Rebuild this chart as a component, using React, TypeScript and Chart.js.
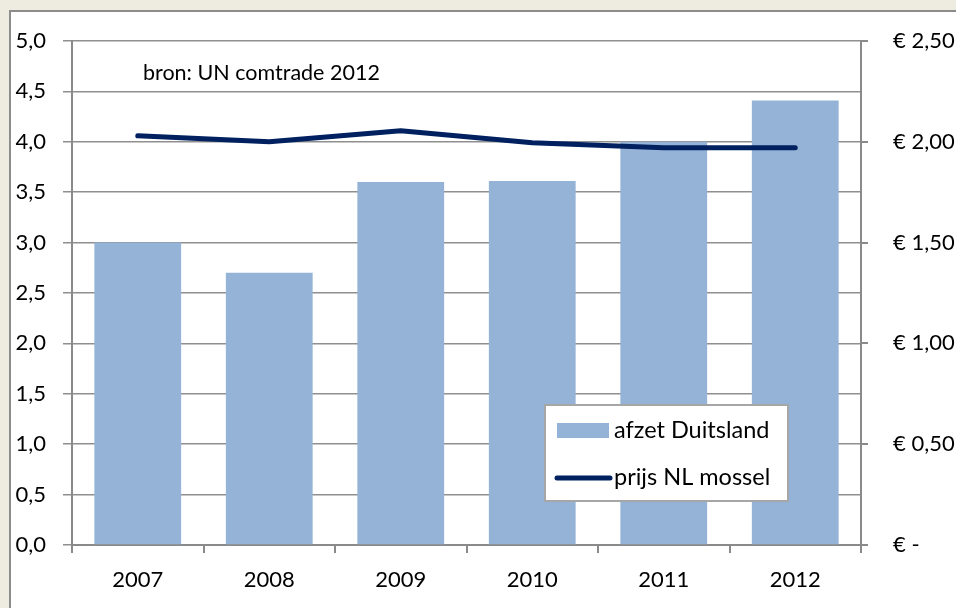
import React, { useEffect, useRef } from "react";
import { Chart, registerables } from "chart.js";

Chart.register(...registerables);

const years = ["2007", "2008", "2009", "2010", "2011", "2012"];
const afzetDuitsland = [3.0, 2.7, 3.6, 3.61, 4.0, 4.41];
const prijsNLMossel = [2.03, 2.0, 2.055, 1.995, 1.97, 1.97];
const leftTickLabels = ["0,0", "0,5", "1,0", "1,5", "2,0", "2,5", "3,0", "3,5", "4,0", "4,5", "5,0"];
const rightTickLabels = ["€ -", "€ 0,50", "€ 1,00", "€ 1,50", "€ 2,00", "€ 2,50"];
const sourceText = "bron: UN comtrade 2012";
const legendLabels = ["afzet Duitsland", "prijs NL mossel"];

const BAR_COLOR = "#95B3D7";
const LINE_COLOR = "#002060";
const AXIS_COLOR = "#8a8a8a";
const FONT = "Lato, 'Open Sans', sans-serif";

const overlayPlugin = {
  id: "overlay",
  afterDraw(chart: any) {
    const ctx = chart.ctx as CanvasRenderingContext2D;
    const a = chart.chartArea;
    ctx.save();
    // source text
    ctx.fillStyle = "#000";
    ctx.font = `21.5px ${FONT}`;
    ctx.textBaseline = "alphabetic";
    ctx.textAlign = "left";
    ctx.fillText(sourceText, a.left + 71, a.top + 39);

    // legend
    const lx = a.left + 473;
    const ly = a.top + 364;
    const lw = 243;
    const lh = 96;
    ctx.fillStyle = "#fff";
    ctx.fillRect(lx, ly, lw, lh);
    ctx.strokeStyle = "#a6a6a6";
    ctx.lineWidth = 2;
    ctx.strokeRect(lx, ly, lw, lh);

    ctx.fillStyle = BAR_COLOR;
    ctx.fillRect(lx + 12, ly + 18, 52, 15);

    ctx.strokeStyle = LINE_COLOR;
    ctx.lineWidth = 5;
    ctx.lineCap = "round";
    ctx.beginPath();
    ctx.moveTo(lx + 12, ly + 73);
    ctx.lineTo(lx + 65, ly + 73);
    ctx.stroke();

    ctx.fillStyle = "#000";
    ctx.font = `23.5px ${FONT}`;
    ctx.fillText(legendLabels[0], lx + 69, ly + 33);
    ctx.fillText(legendLabels[1], lx + 69, ly + 80);
    ctx.restore();
  },
};

export default function App() {
  const ref = useRef<HTMLCanvasElement | null>(null);

  useEffect(() => {
    if (!ref.current) return;
    const tickFont = { family: FONT, size: 22 };
    const chart = new Chart(ref.current, {
      type: "bar",
      data: {
        labels: years,
        datasets: [
          {
            type: "line",
            label: legendLabels[1],
            data: prijsNLMossel,
            yAxisID: "y1",
            borderColor: LINE_COLOR,
            backgroundColor: LINE_COLOR,
            borderWidth: 5,
            pointRadius: 0,
            borderCapStyle: "round",
            borderJoinStyle: "round",
            tension: 0,
            order: 0,
          } as any,
          {
            type: "bar",
            label: legendLabels[0],
            data: afzetDuitsland,
            yAxisID: "y",
            backgroundColor: BAR_COLOR,
            barPercentage: 0.66,
            categoryPercentage: 1,
            order: 1,
          },
        ],
      },
      options: {
        responsive: false,
        animation: false,
        layout: { padding: { top: 41, left: 0, right: 0, bottom: 0 } },
        plugins: { legend: { display: false }, tooltip: { enabled: false } },
        scales: {
          x: {
            grid: { offset: true, drawOnChartArea: false, drawTicks: true, tickLength: 8, color: AXIS_COLOR, lineWidth: 2 },
            border: { color: AXIS_COLOR, width: 2 },
            ticks: { color: "#000", font: tickFont, padding: 14 },
            afterFit: (s: any) => { s.height = 63; },
          },
          y: {
            position: "left",
            min: 0,
            max: 5,
            ticks: {
              stepSize: 0.5,
              color: "#000",
              font: tickFont,
              padding: 17,
              callback: (_v: any, i: number) => leftTickLabels[i],
            },
            grid: { color: "#8f8f8f", lineWidth: 1.5, tickLength: 9 },
            border: { color: AXIS_COLOR, width: 2 },
            afterFit: (s: any) => { s.width = 72; },
          },
          y1: {
            position: "right",
            min: 0,
            max: 2.5,
            ticks: {
              stepSize: 0.5,
              color: "#000",
              font: tickFont,
              padding: 25,
              callback: (_v: any, i: number) => rightTickLabels[i],
            },
            grid: { drawOnChartArea: false, tickLength: 7, color: AXIS_COLOR, lineWidth: 2 },
            border: { color: AXIS_COLOR, width: 2 },
            afterFit: (s: any) => { s.width = 95; },
          },
        },
      } as any,
      plugins: [overlayPlugin],
    });
    return () => chart.destroy();
  }, []);

  return (
    <div style={{ position: "fixed", left: 0, top: 0, width: 956, height: 608, background: "#EEECE1", overflow: "hidden" }}>
      <div
        style={{
          position: "absolute",
          left: 9,
          top: 10,
          width: 980,
          height: 640,
          background: "#fff",
          border: "2px solid #8c8c8c",
        }}
      />
      <canvas ref={ref} width={956} height={608} style={{ position: "absolute", left: 0, top: 0, width: 956, height: 608 }} />
    </div>
  );
}
